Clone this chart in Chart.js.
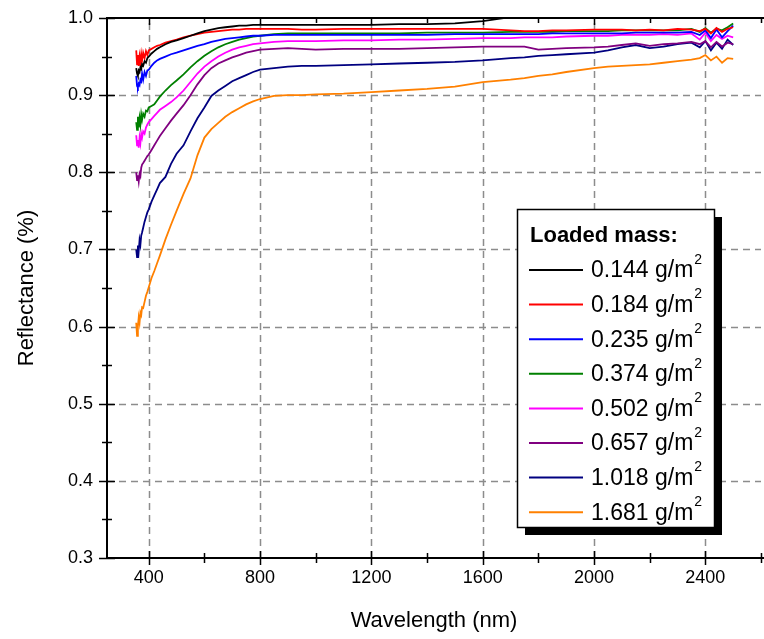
<!DOCTYPE html>
<html>
<head>
<meta charset="utf-8">
<title>Reflectance vs wavelength</title>
<script src="https://cdn.jsdelivr.net/npm/chart.js@4.4.1/dist/chart.umd.min.js"></script>
<style>
  html, body { margin: 0; padding: 0; background: #fff; }
  #cv { display: block; }
</style>
</head>
<body>
<canvas id="cv" width="764" height="639"></canvas>
<script>
// wavelength samples (nm)
const wavelengths = [355, 358, 361, 364, 367, 370, 373, 376, 380, 385, 390, 395, 400, 410, 420, 430, 440, 460, 480, 500,
  525, 550, 575, 600, 625, 650, 675, 700, 725, 750, 775, 800, 850, 900, 950, 1000, 1100, 1200, 1300, 1400,
  1500, 1600, 1700, 1750, 1800, 1850, 1900, 2000, 2050, 2100, 2150, 2200, 2250, 2300, 2350, 2380, 2400, 2420, 2440, 2460,
  2480, 2500];

const masses = ["0.144", "0.184", "0.235", "0.374", "0.502", "0.657", "1.018", "1.681"];
const colors = ["#000000", "#ff0000", "#0000ff", "#008000", "#ff00ff", "#800080", "#000080", "#ff8000"];

const r0144 = [0.935, 0.928, 0.925, 0.932, 0.930, 0.936, 0.934, 0.940, 0.938, 0.944, 0.942, 0.948, 0.950, 0.954, 0.957, 0.960, 0.962, 0.966, 0.969, 0.971,
  0.974, 0.977, 0.980, 0.983, 0.985, 0.987, 0.988, 0.989, 0.990, 0.990, 0.991, 0.991, 0.991, 0.991, 0.991, 0.991, 0.991, 0.991, 0.992, 0.992,
  0.993, 0.996, 1.001, 1.002, 1.002, 1.002, 1.002, 1.003, 1.003, 1.003, 1.003, 1.003, 1.003, 1.003, 1.003, 1.003, 1.003, 1.003, 1.003, 1.003,
  1.003, 1.003];
const r0184 = [0.958, 0.940, 0.952, 0.938, 0.950, 0.942, 0.953, 0.945, 0.955, 0.948, 0.957, 0.952, 0.958, 0.960, 0.962, 0.964, 0.965, 0.968, 0.970, 0.972,
  0.975, 0.977, 0.979, 0.981, 0.982, 0.983, 0.984, 0.985, 0.985, 0.986, 0.986, 0.986, 0.986, 0.986, 0.985, 0.985, 0.986, 0.986, 0.986, 0.986,
  0.986, 0.986, 0.984, 0.983, 0.983, 0.984, 0.984, 0.985, 0.985, 0.985, 0.984, 0.985, 0.984, 0.986, 0.985, 0.983, 0.986, 0.980, 0.987, 0.982,
  0.986, 0.988];
const r0235 = [0.925, 0.912, 0.910, 0.915, 0.913, 0.920, 0.918, 0.928, 0.920, 0.930, 0.925, 0.932, 0.933, 0.938, 0.942, 0.945, 0.947, 0.950, 0.953, 0.955,
  0.958, 0.961, 0.964, 0.966, 0.969, 0.971, 0.973, 0.974, 0.975, 0.976, 0.977, 0.977, 0.978, 0.978, 0.978, 0.978, 0.978, 0.978, 0.978, 0.978,
  0.979, 0.979, 0.979, 0.979, 0.979, 0.980, 0.980, 0.980, 0.980, 0.980, 0.981, 0.981, 0.981, 0.981, 0.982, 0.978, 0.984, 0.974, 0.985, 0.975,
  0.983, 0.990];
const r0374 = [0.865, 0.855, 0.872, 0.858, 0.870, 0.862, 0.875, 0.868, 0.876, 0.872, 0.880, 0.879, 0.884, 0.886, 0.888, 0.893, 0.898, 0.906, 0.913, 0.919,
  0.927, 0.936, 0.944, 0.951, 0.957, 0.962, 0.966, 0.969, 0.972, 0.974, 0.976, 0.977, 0.979, 0.980, 0.980, 0.980, 0.980, 0.980, 0.980, 0.981,
  0.981, 0.981, 0.982, 0.982, 0.982, 0.982, 0.983, 0.983, 0.983, 0.984, 0.984, 0.984, 0.984, 0.984, 0.986, 0.982, 0.987, 0.981, 0.986, 0.984,
  0.988, 0.993];
const r0502 = [0.848, 0.835, 0.842, 0.832, 0.845, 0.838, 0.850, 0.845, 0.853, 0.850, 0.858, 0.862, 0.865, 0.869, 0.873, 0.877, 0.881, 0.886, 0.891, 0.897,
  0.906, 0.917, 0.928, 0.937, 0.944, 0.950, 0.955, 0.959, 0.962, 0.964, 0.966, 0.967, 0.969, 0.970, 0.970, 0.970, 0.971, 0.971, 0.972, 0.972,
  0.973, 0.974, 0.974, 0.975, 0.975, 0.975, 0.976, 0.977, 0.977, 0.978, 0.978, 0.978, 0.979, 0.978, 0.980, 0.972, 0.981, 0.970, 0.978, 0.973,
  0.977, 0.975];
const r0657 = [0.800, 0.790, 0.796, 0.788, 0.798, 0.795, 0.806, 0.810, 0.812, 0.815, 0.818, 0.821, 0.823, 0.829, 0.835, 0.841, 0.847, 0.857, 0.867, 0.876,
  0.887, 0.900, 0.914, 0.926, 0.935, 0.941, 0.945, 0.949, 0.952, 0.955, 0.957, 0.959, 0.960, 0.961, 0.960, 0.959, 0.960, 0.960, 0.960, 0.961,
  0.962, 0.963, 0.963, 0.963, 0.959, 0.960, 0.961, 0.962, 0.963, 0.965, 0.967, 0.964, 0.966, 0.967, 0.969, 0.966, 0.970, 0.962, 0.969, 0.963,
  0.968, 0.966];
const r1018 = [0.700, 0.690, 0.705, 0.698, 0.712, 0.706, 0.718, 0.722, 0.728, 0.736, 0.742, 0.748, 0.752, 0.762, 0.770, 0.778, 0.786, 0.794, 0.811, 0.824,
  0.835, 0.853, 0.870, 0.884, 0.899, 0.906, 0.912, 0.918, 0.922, 0.926, 0.930, 0.933, 0.935, 0.937, 0.938, 0.938, 0.939, 0.940, 0.941, 0.942,
  0.943, 0.945, 0.948, 0.949, 0.951, 0.952, 0.953, 0.955, 0.958, 0.962, 0.965, 0.961, 0.963, 0.966, 0.968, 0.962, 0.970, 0.958, 0.968, 0.960,
  0.972, 0.965];
const r1681 = [0.605, 0.588, 0.600, 0.612, 0.605, 0.618, 0.615, 0.625, 0.624, 0.632, 0.640, 0.645, 0.651, 0.663, 0.672, 0.682, 0.692, 0.713, 0.732, 0.750,
  0.772, 0.792, 0.822, 0.845, 0.856, 0.864, 0.872, 0.878, 0.883, 0.888, 0.892, 0.895, 0.899, 0.900, 0.900, 0.901, 0.902, 0.904, 0.906, 0.908,
  0.911, 0.917, 0.920, 0.922, 0.925, 0.927, 0.930, 0.935, 0.937, 0.938, 0.939, 0.940, 0.942, 0.944, 0.946, 0.948, 0.952, 0.945, 0.950, 0.942,
  0.948, 0.947];

const series = [r0144, r0184, r0235, r0374, r0502, r0657, r1018, r1681];

// axis ranges
const xMin = 250, xMax = 2600, xStep = 200, xLabelStep = 400;
const yMin = 0.3, yMax = 1.0, yStep = 0.05, yLabelStep = 0.1;

const FONT = "'Liberation Sans', Arial, sans-serif";

function isMajor(v, step) {
  const r = v / step;
  return Math.abs(r - Math.round(r)) < 1e-6;
}

const datasets = series.map((vals, i) => ({
  label: masses[i],
  data: vals.map((v, k) => ({ x: wavelengths[k], y: v })),
  borderColor: colors[i],
  borderWidth: 1.8,
  pointRadius: 0,
  tension: 0,
  fill: false
}));

// dashed grid behind the curves, axis frame and ticks on top
const frame = {
  id: 'frame',
  beforeDatasetsDraw(chart) {
    const { ctx, chartArea: a, scales: { x, y } } = chart;
    ctx.save();
    ctx.strokeStyle = '#8c8c8c';
    ctx.lineWidth = 1.5;
    ctx.setLineDash([7, 5]);
    for (let v = 400; v < xMax; v += xLabelStep) {
      const px = Math.round(x.getPixelForValue(v)) + 0.5;
      ctx.beginPath(); ctx.moveTo(px, a.bottom); ctx.lineTo(px, a.top); ctx.stroke();
    }
    for (let k = 1; k < 7; k++) {
      const py = Math.round(y.getPixelForValue(yMin + k * yLabelStep)) + 0.5;
      ctx.beginPath(); ctx.moveTo(a.left, py); ctx.lineTo(a.right, py); ctx.stroke();
    }
    ctx.restore();
  },
  afterDatasetsDraw(chart) {
    const { ctx, chartArea: a, scales: { x, y } } = chart;
    ctx.save();
    ctx.strokeStyle = '#000';
    ctx.lineWidth = 2;
    ctx.setLineDash([]);
    ctx.beginPath();
    ctx.moveTo(a.right + 3, a.top); ctx.lineTo(a.left, a.top);
    ctx.lineTo(a.left, a.bottom); ctx.lineTo(a.right + 3, a.bottom);
    ctx.stroke();

    ctx.lineWidth = 1.5;
    // bottom and top ticks
    for (let v = 400; v <= xMax; v += xStep) {
      const px = Math.round(x.getPixelForValue(v)) + 0.5;
      const major = isMajor(v, xLabelStep);
      const len = major ? 7 : 5;
      ctx.beginPath();
      ctx.moveTo(px, a.bottom - len); ctx.lineTo(px, a.bottom + len);
      ctx.moveTo(px, a.top); ctx.lineTo(px, a.top + len);
      ctx.stroke();
    }
    // left ticks
    for (let k = 0; k <= 14; k++) {
      const v = yMin + k * yStep;
      const py = Math.round(y.getPixelForValue(v)) + 0.5;
      const len = k % 2 === 0 ? 8 : 5;
      ctx.beginPath();
      ctx.moveTo(a.left - len, py); ctx.lineTo(a.left + len, py);
      ctx.stroke();
    }
    ctx.restore();
  },
  afterDraw(chart) {
    // legend box with drop shadow
    const ctx = chart.ctx;
    const bx = 517, by = 209, bw = 197, bh = 318;
    ctx.save();
    ctx.fillStyle = '#000';
    ctx.fillRect(bx + 8, by + 8, bw, bh);
    ctx.fillStyle = '#fff';
    ctx.fillRect(bx, by, bw, bh);
    ctx.strokeStyle = '#000';
    ctx.lineWidth = 1.5;
    ctx.strokeRect(bx + 0.5, by + 0.5, bw, bh);

    ctx.fillStyle = '#000';
    ctx.textBaseline = 'middle';
    ctx.textAlign = 'left';
    ctx.font = 'bold 22px ' + FONT;
    ctx.fillText('Loaded mass:', 530, 236);

    masses.forEach((m, i) => {
      const cy = 270 + i * 34.6;
      ctx.strokeStyle = colors[i];
      ctx.lineWidth = 2;
      ctx.beginPath(); ctx.moveTo(529, cy); ctx.lineTo(583, cy); ctx.stroke();
      ctx.fillStyle = '#000';
      ctx.font = '23px ' + FONT;
      const txt = m + ' g/m';
      ctx.fillText(txt, 591, cy + 1);
      const w = ctx.measureText(txt).width;
      ctx.font = '14px ' + FONT;
      ctx.fillText('2', 591 + w + 1, cy - 10);
    });
    ctx.restore();
  }
};

Chart.defaults.color = '#000';
Chart.defaults.font.family = FONT;

new Chart(document.getElementById('cv'), {
  type: 'line',
  data: { datasets },
  options: {
    responsive: false,
    animation: false,
    devicePixelRatio: 1,
    layout: { padding: { top: 18, right: 3, left: 0, bottom: 0 } },
    plugins: { legend: { display: false }, tooltip: { enabled: false } },
    scales: {
      x: {
        type: 'linear',
        min: xMin, max: xMax,
        grid: { display: false, drawTicks: false },
        border: { display: false },
        ticks: {
          stepSize: xStep,
          includeBounds: false,
          autoSkip: false,
          maxRotation: 0,
          padding: 9,
          font: { size: 18 },
          callback: v => isMajor(v, xLabelStep) ? String(v) : ''
        },
        title: { display: true, text: 'Wavelength (nm)', font: { size: 22 }, padding: { top: 0, bottom: 5 } },
        afterFit: s => { s.height = 81; s.paddingLeft = 0; s.paddingRight = 0; }
      },
      y: {
        type: 'linear',
        min: yMin, max: yMax,
        grid: { display: false, drawTicks: false },
        border: { display: false },
        ticks: {
          stepSize: yLabelStep,
          padding: 14,
          font: { size: 18 },
          callback: v => v.toFixed(1)
        },
        title: { display: true, text: 'Reflectance (%)', font: { size: 22 }, padding: { top: 14, bottom: 0 } },
        afterFit: s => { s.width = 107; s.paddingTop = 0; s.paddingBottom = 0; }
      }
    }
  },
  plugins: [frame]
});
</script>
</body>
</html>
